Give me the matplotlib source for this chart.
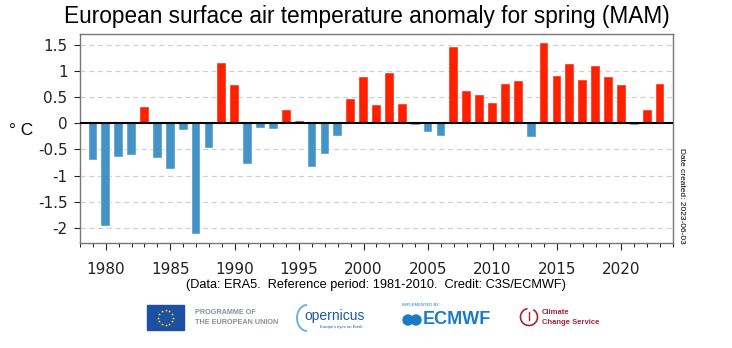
import numpy as np
import matplotlib
matplotlib.use('Agg')
import matplotlib.pyplot as plt
from matplotlib.patches import Rectangle, Circle, Arc
from matplotlib.ticker import MultipleLocator

plt.rcParams['font.family'] = ['DejaVu Sans']

# spring (MAM) anomalies, degC, relative to 1981-2010
years = list(range(1979, 2024))
anomaly = [-0.70, -1.97, -0.65, -0.60, 0.31, -0.67, -0.88, -0.12, -2.12, -0.47,
           1.16, 0.74, -0.78, -0.08, -0.10, 0.26, 0.04, -0.84, -0.58, -0.25,
           0.46, 0.88, 0.35, 0.96, 0.37, -0.04, -0.17, -0.24, 1.47, 0.62,
           0.55, 0.38, 0.76, 0.81, -0.26, 1.54, 0.91, 1.14, 0.83, 1.10,
           0.89, 0.74, -0.04, 0.26, 0.76]
ytick_vals = [-2, -1.5, -1, -0.5, 0, 0.5, 1, 1.5]
ytick_labels = ['-2', '-1.5', '-1', '-0.5', '0', '0.5', '1', '1.5']

blue = '#4393c6'
red = '#ff2000'
colors = [red if a > 0 else blue for a in anomaly]

fig = plt.figure(figsize=(7.32, 3.48), dpi=100)
ax = fig.add_axes([80 / 732, 1 - 243 / 348, 593 / 732, 209 / 348])

ax.bar(years, anomaly, width=0.68, color=colors, edgecolor='white',
       linewidth=0.3, zorder=3)
ax.axhline(0, color='black', linewidth=1.5, zorder=4)

ax.set_xlim(1978, 2024)
ax.set_ylim(-2.29, 1.71)
ax.set_yticks(ytick_vals)
ax.set_yticklabels(ytick_labels)
ax.xaxis.set_major_locator(MultipleLocator(5))
ax.xaxis.set_minor_locator(MultipleLocator(1))
ax.grid(axis='y', color='#d0d0d0', linestyle=(0, (4, 3)), linewidth=0.9, zorder=0)
ax.tick_params(axis='both', labelsize=11, colors='#222222', direction='out')
ax.tick_params(axis='x', which='major', length=5, pad=9)
ax.tick_params(axis='x', which='minor', length=3)
ax.tick_params(axis='y', length=4, pad=5)
for s in ax.spines.values():
    s.set_color('#777777')
    s.set_linewidth(1.0)

fig.text(0.501, 1 - 16 / 348, 'European surface air temperature anomaly for spring (MAM)',
         ha='center', va='center', fontsize=16.3, family='Liberation Sans')
fig.text(9 / 732, 1 - 131 / 348, '° C', ha='left', va='center', fontsize=12.5,
         family='Liberation Sans')
fig.text(681 / 732, 1 - 196 / 348, 'Date created: 2023-06-03', rotation=-90,
         ha='center', va='center', fontsize=6, family='Liberation Sans')
fig.text(376 / 732, 1 - 285 / 348,
         '(Data: ERA5.  Reference period: 1981-2010.  Credit: C3S/ECMWF)',
         ha='center', va='center', fontsize=9.2, family='Liberation Sans')

# logo strip
lax = fig.add_axes([0, 0, 1, 1], zorder=-1)
lax.set_xlim(0, 732)
lax.set_ylim(348, 0)
lax.axis('off')

# EU flag
lax.add_patch(Rectangle((147, 305), 37, 25, color='#1d4fa3'))
for k in range(12):
    t = 2 * np.pi * k / 12
    lax.plot(165.5 + 7.5 * np.cos(t), 317.5 + 7.5 * np.sin(t), marker='*',
             color='#ffdd00', markersize=2.2, markeredgewidth=0)
lax.text(195, 312, 'PROGRAMME OF', fontsize=5.2, color='#8a8f99',
         fontweight='bold', va='center', family='Liberation Sans')
lax.text(195, 322, 'THE EUROPEAN UNION', fontsize=5.2, color='#8a8f99',
         fontweight='bold', va='center', family='Liberation Sans')

# Copernicus
lax.add_patch(Arc((307, 318), 20, 26, theta1=90, theta2=270, color='#6ab4e0',
                  linewidth=1.4))
lax.text(304, 316, 'opernicus', fontsize=10, color='#1a5aa0', va='center',
         family='Liberation Sans')
lax.text(320, 327, "Europe's eyes on Earth", fontsize=3, color='#1a5aa0',
         va='center', family='Liberation Sans')

# ECMWF
lax.text(402, 305, 'IMPLEMENTED BY', fontsize=3, color='#1a7cc6', va='center',
         family='Liberation Sans')
lax.add_patch(Circle((408, 320), 5, color='#1a7cc6'))
lax.add_patch(Circle((416, 320), 5, color='#1a7cc6'))
lax.text(423, 320, 'ECMWF', fontsize=13, color='#1a7cc6', fontweight='bold',
         va='center', family='Liberation Sans')

# Climate Change Service
lax.add_patch(Arc((529, 317), 17, 17, theta1=-60, theta2=260, color='#a3233a',
                  linewidth=1.2))
lax.plot([529, 529], [312, 320], color='#a3233a', linewidth=1)
lax.text(542, 313, 'Climate', fontsize=5.5, color='#a3233a', fontweight='bold',
         va='center', family='Liberation Sans')
lax.text(542, 322, 'Change Service', fontsize=5.5, color='#a3233a',
         fontweight='bold', va='center', family='Liberation Sans')

fig.savefig('out.png', dpi=100)
